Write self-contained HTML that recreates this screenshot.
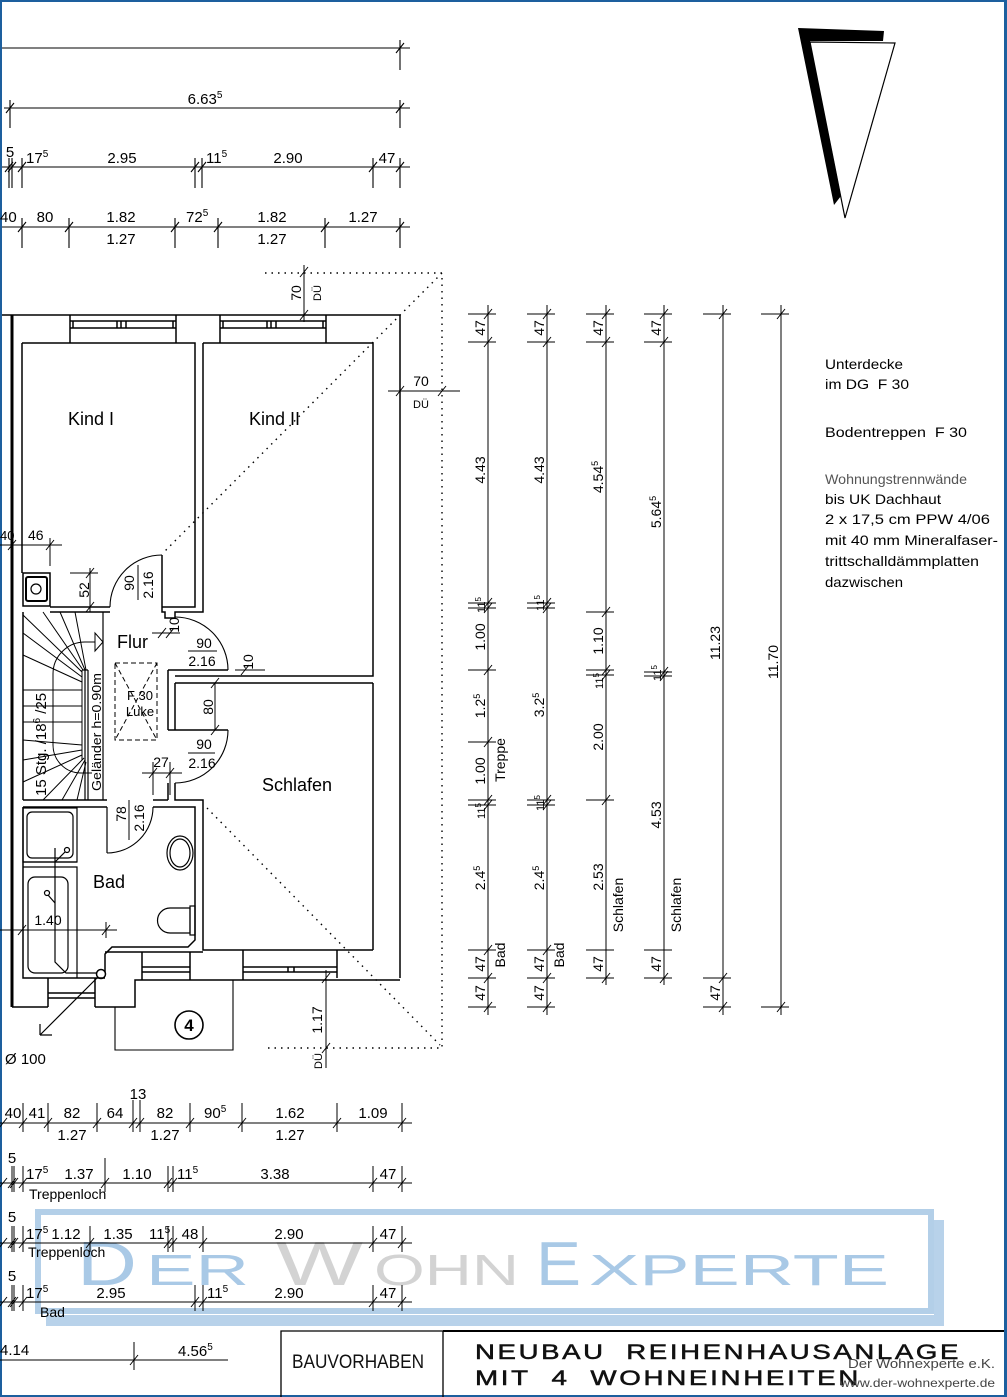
<!DOCTYPE html>
<html><head><meta charset="utf-8"><style>
html,body{margin:0;padding:0;background:#fff;}
svg{display:block}
text{font-family:"Liberation Sans","DejaVu Sans",sans-serif;fill:#000}
</style></head><body>
<svg width="1007" height="1397" viewBox="0 0 1007 1397" xmlns="http://www.w3.org/2000/svg">
<rect width="1007" height="1397" fill="#fff"/>

<!-- watermark -->
<rect x="38" y="1212" width="893" height="99" fill="none" stroke="#b3cfe8" stroke-width="6"/>
<path d="M934 1220 H944 V1326 H46 V1315 H934 Z" fill="#b8d2ea"/>
<g font-family="Liberation Sans, sans-serif">
<text x="77" y="1285" font-size="62" textLength="60" lengthAdjust="spacingAndGlyphs" style="fill:#a9c9e6">D</text>
<text x="146" y="1285" font-size="44" textLength="103" lengthAdjust="spacingAndGlyphs" style="fill:#a9c9e6">ER</text>
<text x="276" y="1285" font-size="62" textLength="87" lengthAdjust="spacingAndGlyphs" style="fill:#d3d3d3">W</text>
<text x="374" y="1285" font-size="44" textLength="145" lengthAdjust="spacingAndGlyphs" style="fill:#d3d3d3">OHN</text>
<text x="536" y="1285" font-size="62" textLength="45" lengthAdjust="spacingAndGlyphs" style="fill:#a9c9e6">E</text>
<text x="589" y="1285" font-size="44" textLength="300" lengthAdjust="spacingAndGlyphs" style="fill:#a9c9e6">XPERTE</text>
</g>

<!-- blue frame -->
<rect x="0" y="0" width="1007" height="2" fill="#1d5f9e"/>
<rect x="0" y="0" width="2" height="1397" fill="#1d5f9e"/>
<rect x="1004" y="0" width="3" height="1397" fill="#1d5f9e"/>
<rect x="0" y="1395" width="1007" height="2" fill="#1d5f9e"/>

<!-- TOP DIMENSIONS -->
<g stroke="#000" stroke-width="1.1" fill="none">
<path d="M2 48 H410 M400 40 V70"/>
<path d="M4 108 H410 M10 100 V128 M400 100 V128"/>
<path d="M2 167 H410 M9 158 V188 M12 158 V188 M22 158 V188 M195 158 V188 M202 158 V188 M373 158 V188 M400 158 V188"/>
<path d="M2 227 H410 M22 218 V248 M69 218 V248 M175 218 V248 M218 218 V248 M325 218 V248 M400 218 V248"/>
<path d="M396 53 L404 43 M6 113 L14 103 M396 113 L404 103
M5 172 L13 162 M8 172 L16 162 M18 172 L26 162 M191 172 L199 162 M198 172 L206 162 M369 172 L377 162 M396 172 L404 162
M18 232 L26 222 M65 232 L73 222 M171 232 L179 222 M214 232 L222 222 M321 232 L329 222 M396 232 L404 222"/>
</g>
<g font-size="15">
<text x="205" y="104" text-anchor="middle">6.63<tspan font-size="10" dy="-6">5</tspan></text>
<text x="10" y="157" text-anchor="middle">5</text>
<text x="26" y="163">17<tspan font-size="10" dy="-6">5</tspan></text>
<text x="122" y="163" text-anchor="middle">2.95</text>
<text x="206" y="163">11<tspan font-size="10" dy="-6">5</tspan></text>
<text x="288" y="163" text-anchor="middle">2.90</text>
<text x="387" y="163" text-anchor="middle">47</text>
<text x="0" y="222">40</text>
<text x="45" y="222" text-anchor="middle">80</text>
<text x="121" y="222" text-anchor="middle">1.82</text>
<text x="121" y="244" text-anchor="middle">1.27</text>
<text x="186" y="222">72<tspan font-size="10" dy="-6">5</tspan></text>
<text x="272" y="222" text-anchor="middle">1.82</text>
<text x="272" y="244" text-anchor="middle">1.27</text>
<text x="363" y="222" text-anchor="middle">1.27</text>
</g>

<!-- NORTH ARROW -->
<polygon points="798,28 884,31 883,41 810,41 841,196 834,205" fill="#000"/>
<polygon points="810,42 895,43 845,218" fill="none" stroke="#000" stroke-width="1.2"/>

<!-- NOTES -->
<g font-size="14" font-family="DejaVu Sans, Liberation Sans, sans-serif">
<text x="825" y="369" textLength="78" lengthAdjust="spacingAndGlyphs">Unterdecke</text>
<text x="825" y="389" textLength="84" lengthAdjust="spacingAndGlyphs">im DG&#160;&#160;F 30</text>
<text x="825" y="437" textLength="142" lengthAdjust="spacingAndGlyphs">Bodentreppen&#160;&#160;F 30</text>
<text x="825" y="484" textLength="142" lengthAdjust="spacingAndGlyphs" style="fill:#555">Wohnungstrennwände</text>
<text x="825" y="504" textLength="116" lengthAdjust="spacingAndGlyphs">bis UK Dachhaut</text>
<text x="825" y="524" textLength="165" lengthAdjust="spacingAndGlyphs">2 x 17,5 cm PPW 4/06</text>
<text x="825" y="545" textLength="173" lengthAdjust="spacingAndGlyphs">mit 40 mm Mineralfaser-</text>
<text x="825" y="566" textLength="154" lengthAdjust="spacingAndGlyphs">trittschalldämmplatten</text>
<text x="825" y="587" textLength="78" lengthAdjust="spacingAndGlyphs">dazwischen</text>
</g>

<!-- DOTTED ROOF OVERHANG -->
<g stroke="#000" stroke-width="1.4" fill="none" stroke-dasharray="1.5 5">
<path d="M265 273 H442 V1048 H268"/>
<path d="M442 273 L163 553"/>
<path d="M207 808 L440 1045"/>
</g>

<!-- WALLS -->
<g stroke="#000" stroke-width="1.5" fill="none">
<path d="M12 315 V1007" stroke-width="3"/>
<path d="M2 315 H400 V978"/>
<path d="M70 315 V343 M176 315 V343 M70 321 H176 M70 328 H176 M73 321 V328 M173 321 V328 M117 321 V328 M121 321 V328 M126 321 V328"/>
<path d="M220 315 V343 M326 315 V343 M220 321 H326 M220 328 H326 M223 321 V328 M323 321 V328 M267 321 V328 M271 321 V328 M276 321 V328"/>
<path d="M22 343 H195 V607 H162 M110 607 H50 M22 343 V573"/>
<path d="M50 612 H110 M23 612 V800"/>
<path d="M203 343 V612 H175 V618 H165 V612 H162 V607"/>
<path d="M162 555 V607"/>
<path d="M110 607 A52 52 0 0 1 162 555" stroke-width="1.1"/>
<path d="M203 343 H373 V676 H175 M175 683 H373"/>
<path d="M168 670 H228 M168 670 V730 M175 683 V730 M168 730 H228"/>
<path d="M175 617 A53 53 0 0 1 228 670" stroke-width="1.1"/>
<path d="M228 730 A53 53 0 0 1 175 783" stroke-width="1.1"/>
<path d="M168 783 V800 M175 783 V800 H203 V950 H373 M373 683 V950"/>
<path d="M23 800 H107 M23 807 H107 M153 800 H168 M153 807 H195 V940 L188 947 H112 L105 954 V972"/>
<path d="M107 807 V853" stroke-width="1.2"/>
<path d="M107 853 A46 46 0 0 0 153 807" stroke-width="1.1"/>
<path d="M23 807 V978 H105"/>
<path d="M12 1007 H48 M48 978 V1007 M95 978 V1007 M48 993 H95 M48 998 H95 M95 1007 H135 V980 H400"/>
<path d="M105 952 H203 M142 952 V980 M190 952 V980 M142 967 H190 M142 972 H190"/>
<path d="M243 950 V980 M337 950 V978 M243 967 H337 M243 972 H337 M288 967 V972 M294 967 V972"/>
<path d="M115 1007 V1050 H233 V980" stroke-width="1.1"/>
<path d="M103 612 V800 M85 670 V800 M88 670 V800 M82 670 H88" stroke-width="1.2"/>
</g>

<!-- stair steps -->
<g stroke="#000" stroke-width="1" fill="none">
<path d="M23 615 L82 672 M43 612 L83 670 M60 612 L85 670 M75 612 L86 670
M23 633 L82 677 M23 655 L82 682 M23 690 H82 M23 706 H82 M23 722 H82 M23 740 L82 745
M23 760 L82 750 M23 782 L82 755 M43 800 L84 758 M62 800 L85 760 M77 800 L86 762 M82 670 V760"/>
<path d="M95 642 H85 A32 32 0 0 0 53 674 V745 A28 28 0 0 0 81 773 H92"/>
<polygon points="95,633 103,642 95,651"/>
</g>

<!-- chimney -->
<g stroke="#000" fill="none">
<rect x="23" y="573" width="27" height="33" stroke-width="1.5"/>
<rect x="26" y="577" width="21" height="24" rx="2" stroke-width="2"/>
<circle cx="36" cy="589" r="5" stroke-width="1.2"/>
</g>

<!-- Luke -->
<g stroke="#000" stroke-width="1" fill="none" stroke-dasharray="5 3">
<rect x="115" y="663" width="42" height="77"/>
<path d="M115 663 L157 740 M157 663 L115 740"/>
</g>

<!-- sanitary -->
<g stroke="#000" stroke-width="1.2" fill="none">
<rect x="23" y="808" width="54" height="54"/>
<rect x="27" y="812" width="46" height="46" rx="5"/>
<path d="M23 862 H77 M23 867 H77 V978"/>
<circle cx="67" cy="850" r="2.5"/>
<path d="M65 852 L55 862"/>
<rect x="28" y="877" width="40" height="96" rx="7"/>
<circle cx="47" cy="893" r="2.5"/>
<path d="M48 895 L55 903"/>
<path d="M55 848 V962 L66 973 H97"/>
<circle cx="101" cy="974" r="4.5" stroke-width="1.5"/>
<path d="M98 977 L40 1035 M40 1035 L40 1024 M40 1035 L52 1035"/>
<ellipse cx="180" cy="853" rx="13" ry="17"/>
<ellipse cx="180" cy="853" rx="10" ry="14"/>
<path d="M190 908 H170 A12.5 12.5 0 0 0 170 933 H190 Z"/>
<rect x="190" y="906" width="5" height="29"/>
<circle cx="189" cy="1025" r="14" stroke-width="1.6"/>
</g>
<text x="189" y="1031" text-anchor="middle" font-size="17" font-weight="bold">4</text>
<text x="5" y="1064" font-size="15">Ø 100</text>

<!-- interior dimensions -->
<g stroke="#000" stroke-width="1" fill="none">
<path d="M0 545 H62 M50 538 V566 M8 550 L16 540 M46 550 L54 540"/>
<path d="M90 568 V612 M70 573 H98 M86 578 L94 568 M86 612 L94 602"/>
<path d="M138 565 V600"/>
<path d="M152 633 H180 M158 638 L166 628 M166 638 L174 628"/>
<path d="M235 670 H265 M241 675 L249 665"/>
<path d="M215 683 V730 M211 688 L219 678 M211 735 L219 725"/>
<path d="M142 773 H182 M153 762 V795 M170 762 V795 M149 778 L157 768 M166 778 L174 768"/>
<path d="M0 930 H117 M106 922 V938 M18 935 L26 925 M102 935 L110 925"/>
<path d="M188 651 H217 M188 753 H215 M129 800 V840"/>
<path d="M304 265 V322 M300 277 L308 267 M300 320 L308 310"/>
<path d="M388 391 H460 M396 396 L404 386 M438 396 L446 386"/>
<path d="M326 970 V1068 M322 983 L330 973 M322 1053 L330 1043"/>
</g>

<g font-size="14">
<text x="0" y="540" font-size="13">40</text>
<text x="28" y="540">46</text>
<text transform="translate(89,590) rotate(-90)" text-anchor="middle">52</text>
<text transform="translate(134,583) rotate(-90)" text-anchor="middle">90</text>
<text transform="translate(153,585) rotate(-90)" text-anchor="middle">2.16</text>
<text transform="translate(179,625) rotate(-90)" text-anchor="middle">10</text>
<text transform="translate(253,662) rotate(-90)" text-anchor="middle">10</text>
<text x="204" y="648" text-anchor="middle">90</text>
<text x="202" y="666" text-anchor="middle">2.16</text>
<text transform="translate(213,707) rotate(-90)" text-anchor="middle">80</text>
<text x="204" y="749" text-anchor="middle">90</text>
<text x="202" y="768" text-anchor="middle">2.16</text>
<text x="161" y="767" text-anchor="middle">27</text>
<text transform="translate(126,814) rotate(-90)" text-anchor="middle">78</text>
<text transform="translate(144,818) rotate(-90)" text-anchor="middle">2.16</text>
<text x="48" y="925" text-anchor="middle">1.40</text>
<text x="140" y="700" text-anchor="middle" font-size="13">F 30</text>
<text x="140" y="716" text-anchor="middle" font-size="13">Luke</text>
<text transform="translate(301,293) rotate(-90)" text-anchor="middle">70</text>
<text transform="translate(321,293) rotate(-90)" text-anchor="middle" font-size="11">DÜ</text>
<text x="421" y="386" text-anchor="middle">70</text>
<text x="421" y="408" text-anchor="middle" font-size="11">DÜ</text>
<text transform="translate(322,1020) rotate(-90)" text-anchor="middle">1.17</text>
<text transform="translate(322,1061) rotate(-90)" text-anchor="middle" font-size="11">DÜ</text>
<text transform="translate(46,796) rotate(-90)" font-size="15">15 Stg. /18<tspan font-size="10" dy="-6">6</tspan><tspan dy="6"> /25</tspan></text>
<text transform="translate(101,791) rotate(-90)" font-size="13" textLength="118" lengthAdjust="spacingAndGlyphs">Geländer h=0.90m</text>
</g>

<g font-size="18">
<text x="68" y="425">Kind I</text>
<text x="249" y="425">Kind II</text>
<text x="117" y="648">Flur</text>
<text x="262" y="791">Schlafen</text>
<text x="93" y="888">Bad</text>
</g>

<!-- RIGHT DIMENSION COLUMNS -->
<g stroke="#000" stroke-width="1" fill="none">
<path d="M488 305 V1015 M547 305 V1015 M606 305 V985 M664 305 V985 M723 305 V1015 M781 305 V1015"/>
<path d="M468 314 H496 M468 342 H496 M468 603 H496 M468 608 H496 M468 670 H496 M468 742 H496 M468 800 H496 M468 805 H496 M468 950 H496 M468 978 H496 M468 1007 H496"/>
<path d="M484 319 L492 309 M484 347 L492 337 M484 608 L492 598 M484 613 L492 603 M484 675 L492 665 M484 747 L492 737 M484 805 L492 795 M484 810 L492 800 M484 955 L492 945 M484 983 L492 973 M484 1012 L492 1002"/>
<path d="M527 314 H555 M527 342 H555 M527 603 H555 M527 608 H555 M527 800 H555 M527 805 H555 M527 950 H555 M527 978 H555 M527 1007 H555"/>
<path d="M543 319 L551 309 M543 347 L551 337 M543 608 L551 598 M543 613 L551 603 M543 805 L551 795 M543 810 L551 800 M543 955 L551 945 M543 983 L551 973 M543 1012 L551 1002"/>
<path d="M586 314 H614 M586 342 H614 M586 612 H614 M586 670 H614 M586 675 H614 M586 800 H614 M586 950 H614 M586 978 H614"/>
<path d="M602 319 L610 309 M602 347 L610 337 M602 617 L610 607 M602 675 L610 665 M602 680 L610 670 M602 805 L610 795 M602 983 L610 973"/>
<path d="M644 314 H672 M644 342 H672 M644 672 H672 M644 676 H672 M644 950 H672 M644 978 H672"/>
<path d="M660 319 L668 309 M660 347 L668 337 M660 677 L668 667 M660 681 L668 671 M660 983 L668 973"/>
<path d="M703 314 H731 M703 978 H731 M703 1007 H731 M719 319 L727 309 M719 983 L727 973 M719 1012 L727 1002"/>
<path d="M761 314 H789 M761 1007 H789 M777 319 L785 309 M777 1012 L785 1002"/>
</g>
<g font-size="14">
<text transform="translate(485,328) rotate(-90)" text-anchor="middle">47</text>
<text transform="translate(485,470) rotate(-90)" text-anchor="middle">4.43</text>
<text transform="translate(485,605) rotate(-90)" text-anchor="middle" font-size="11">11<tspan font-size="8" dy="-4">5</tspan></text>
<text transform="translate(485,637) rotate(-90)" text-anchor="middle">1.00</text>
<text transform="translate(485,706) rotate(-90)" text-anchor="middle">1.2<tspan font-size="9" dy="-5">5</tspan></text>
<text transform="translate(485,771) rotate(-90)" text-anchor="middle">1.00</text>
<text transform="translate(505,760) rotate(-90)" text-anchor="middle">Treppe</text>
<text transform="translate(485,811) rotate(-90)" text-anchor="middle" font-size="11">11<tspan font-size="8" dy="-4">5</tspan></text>
<text transform="translate(485,878) rotate(-90)" text-anchor="middle">2.4<tspan font-size="9" dy="-5">5</tspan></text>
<text transform="translate(485,964) rotate(-90)" text-anchor="middle">47</text>
<text transform="translate(505,955) rotate(-90)" text-anchor="middle">Bad</text>
<text transform="translate(485,993) rotate(-90)" text-anchor="middle">47</text>
<text transform="translate(544,328) rotate(-90)" text-anchor="middle">47</text>
<text transform="translate(544,470) rotate(-90)" text-anchor="middle">4.43</text>
<text transform="translate(544,603) rotate(-90)" text-anchor="middle" font-size="11">11<tspan font-size="8" dy="-4">5</tspan></text>
<text transform="translate(544,705) rotate(-90)" text-anchor="middle">3.2<tspan font-size="9" dy="-5">5</tspan></text>
<text transform="translate(544,803) rotate(-90)" text-anchor="middle" font-size="11">11<tspan font-size="8" dy="-4">5</tspan></text>
<text transform="translate(544,878) rotate(-90)" text-anchor="middle">2.4<tspan font-size="9" dy="-5">5</tspan></text>
<text transform="translate(544,964) rotate(-90)" text-anchor="middle">47</text>
<text transform="translate(564,955) rotate(-90)" text-anchor="middle">Bad</text>
<text transform="translate(544,993) rotate(-90)" text-anchor="middle">47</text>
<text transform="translate(603,328) rotate(-90)" text-anchor="middle">47</text>
<text transform="translate(603,477) rotate(-90)" text-anchor="middle">4.54<tspan font-size="9" dy="-5">5</tspan></text>
<text transform="translate(603,641) rotate(-90)" text-anchor="middle">1.10</text>
<text transform="translate(603,681) rotate(-90)" text-anchor="middle" font-size="11">11<tspan font-size="8" dy="-4">5</tspan></text>
<text transform="translate(603,737) rotate(-90)" text-anchor="middle">2.00</text>
<text transform="translate(603,877) rotate(-90)" text-anchor="middle">2.53</text>
<text transform="translate(623,905) rotate(-90)" text-anchor="middle">Schlafen</text>
<text transform="translate(603,964) rotate(-90)" text-anchor="middle">47</text>
<text transform="translate(661,328) rotate(-90)" text-anchor="middle">47</text>
<text transform="translate(661,512) rotate(-90)" text-anchor="middle">5.64<tspan font-size="9" dy="-5">5</tspan></text>
<text transform="translate(661,673) rotate(-90)" text-anchor="middle" font-size="11">11<tspan font-size="8" dy="-4">5</tspan></text>
<text transform="translate(661,815) rotate(-90)" text-anchor="middle">4.53</text>
<text transform="translate(681,905) rotate(-90)" text-anchor="middle">Schlafen</text>
<text transform="translate(661,964) rotate(-90)" text-anchor="middle">47</text>
<text transform="translate(720,643) rotate(-90)" text-anchor="middle">11.23</text>
<text transform="translate(720,993) rotate(-90)" text-anchor="middle">47</text>
<text transform="translate(778,662) rotate(-90)" text-anchor="middle">11.70</text>
</g>

<!-- BOTTOM DIMENSIONS -->
<g stroke="#000" stroke-width="1" fill="none">
<path d="M0 1123 H412 M23 1103 V1132 M48 1103 V1132 M97 1103 V1132 M133 1100 V1132 M140 1100 V1132 M190 1103 V1132 M242 1103 V1132 M337 1103 V1132 M402 1103 V1132"/>
<path d="M-1 1128 L7 1118 M19 1128 L27 1118 M44 1128 L52 1118 M93 1128 L101 1118 M129 1128 L137 1118 M136 1128 L144 1118 M186 1128 L194 1118 M238 1128 L246 1118 M333 1128 L341 1118 M398 1128 L406 1118"/>
<path d="M0 1183 H412 M12 1166 V1192 M14 1166 V1192 M23 1166 V1192 M105 1158 V1192 M168 1166 V1192 M173 1166 V1192 M373 1166 V1192 M402 1166 V1192"/>
<path d="M-1 1188 L7 1178 M8 1188 L16 1178 M10 1188 L18 1178 M19 1188 L27 1178 M101 1188 L109 1178 M164 1188 L172 1178 M169 1188 L177 1178 M369 1188 L377 1178 M398 1188 L406 1178"/>
<path d="M0 1243 H412 M12 1226 V1252 M14 1226 V1252 M23 1226 V1252 M90 1226 V1252 M168 1226 V1252 M173 1226 V1252 M203 1226 V1252 M373 1226 V1252 M402 1226 V1252"/>
<path d="M-1 1248 L7 1238 M8 1248 L16 1238 M10 1248 L18 1238 M19 1248 L27 1238 M86 1248 L94 1238 M164 1248 L172 1238 M169 1248 L177 1238 M199 1248 L207 1238 M369 1248 L377 1238 M398 1248 L406 1238"/>
<path d="M0 1302 H412 M12 1285 V1311 M14 1285 V1311 M23 1285 V1311 M195 1285 V1311 M203 1285 V1311 M373 1285 V1311 M402 1285 V1311"/>
<path d="M-1 1307 L7 1297 M8 1307 L16 1297 M10 1307 L18 1297 M19 1307 L27 1297 M191 1307 L199 1297 M199 1307 L207 1297 M369 1307 L377 1297 M398 1307 L406 1297"/>
<path d="M0 1360 H228 M134 1342 V1370 M130 1365 L138 1355"/>
</g>
<g font-size="15">
<text x="13" y="1118" text-anchor="middle">40</text>
<text x="37" y="1118" text-anchor="middle">41</text>
<text x="72" y="1118" text-anchor="middle">82</text>
<text x="72" y="1140" text-anchor="middle">1.27</text>
<text x="115" y="1118" text-anchor="middle">64</text>
<text x="138" y="1099" text-anchor="middle">13</text>
<text x="165" y="1118" text-anchor="middle">82</text>
<text x="165" y="1140" text-anchor="middle">1.27</text>
<text x="204" y="1118">90<tspan font-size="10" dy="-6">5</tspan></text>
<text x="290" y="1118" text-anchor="middle">1.62</text>
<text x="290" y="1140" text-anchor="middle">1.27</text>
<text x="373" y="1118" text-anchor="middle">1.09</text>

<text x="12" y="1163" text-anchor="middle">5</text>
<text x="26" y="1179">17<tspan font-size="10" dy="-6">5</tspan></text>
<text x="79" y="1179" text-anchor="middle">1.37</text>
<text x="137" y="1179" text-anchor="middle">1.10</text>
<text x="177" y="1179">11<tspan font-size="10" dy="-6">5</tspan></text>
<text x="275" y="1179" text-anchor="middle">3.38</text>
<text x="388" y="1179" text-anchor="middle">47</text>
<text x="29" y="1199" font-size="14">Treppenloch</text>

<text x="12" y="1222" text-anchor="middle">5</text>
<text x="26" y="1239">17<tspan font-size="10" dy="-6">5</tspan></text>
<text x="66" y="1239" text-anchor="middle">1.12</text>
<text x="118" y="1239" text-anchor="middle">1.35</text>
<text x="149" y="1239">11<tspan font-size="10" dy="-6">5</tspan></text>
<text x="190" y="1239" text-anchor="middle">48</text>
<text x="289" y="1239" text-anchor="middle">2.90</text>
<text x="388" y="1239" text-anchor="middle">47</text>
<text x="28" y="1257" font-size="14">Treppenloch</text>

<text x="12" y="1281" text-anchor="middle">5</text>
<text x="26" y="1298">17<tspan font-size="10" dy="-6">5</tspan></text>
<text x="111" y="1298" text-anchor="middle">2.95</text>
<text x="207" y="1298">11<tspan font-size="10" dy="-6">5</tspan></text>
<text x="289" y="1298" text-anchor="middle">2.90</text>
<text x="388" y="1298" text-anchor="middle">47</text>
<text x="40" y="1317" font-size="14">Bad</text>

<text x="0" y="1355">4.14</text>
<text x="178" y="1356">4.56<tspan font-size="10" dy="-6">5</tspan></text>
</g>

<!-- TITLE BLOCK -->
<path d="M281 1397 V1331 H1004 M443 1331 V1397" stroke="#000" stroke-width="1.3" fill="none"/>
<path d="M443 1331 H1004" stroke="#000" stroke-width="2" fill="none"/>
<text x="292" y="1368" font-size="19" textLength="132" lengthAdjust="spacingAndGlyphs" style="fill:#111">BAUVORHABEN</text>
<text x="475" y="1359" font-size="21" textLength="486" lengthAdjust="spacingAndGlyphs" letter-spacing="2" style="fill:#111;stroke:#111;stroke-width:0.5">NEUBAU&#160;&#160;REIHENHAUSANLAGE</text>
<text x="475" y="1385" font-size="21" textLength="386" lengthAdjust="spacingAndGlyphs" letter-spacing="2" style="fill:#111;stroke:#111;stroke-width:0.5">MIT&#160;&#160;4&#160;&#160;WOHNEINHEITEN</text>
<text x="848" y="1368" font-size="13" textLength="147" lengthAdjust="spacingAndGlyphs" style="fill:#444">Der Wohnexperte e.K.</text>
<text x="840" y="1387" font-size="12" textLength="155" lengthAdjust="spacingAndGlyphs" style="fill:#444">www.der-wohnexperte.de</text>
</svg>
</body></html>
